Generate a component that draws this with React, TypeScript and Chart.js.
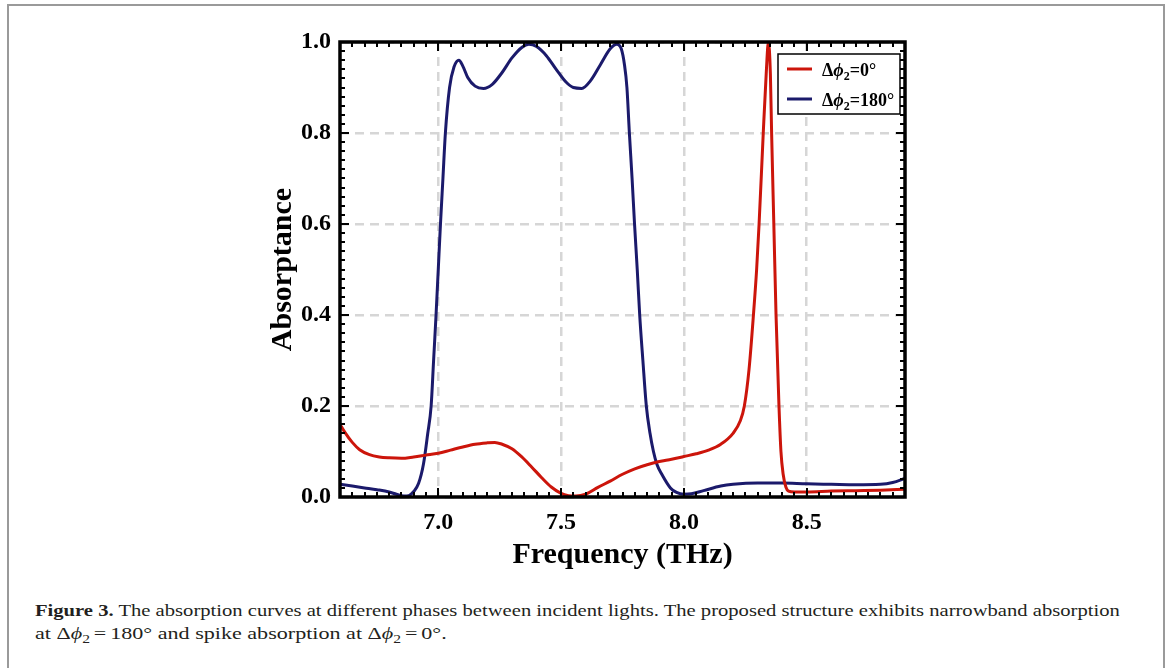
import React, { useEffect, useLayoutEffect, useRef } from 'react';
import { Chart, registerables } from 'chart.js';

Chart.register(...registerables);

// ---------- data ----------
const blueFreq = [
  6.6, 6.65, 6.7, 6.75, 6.8, 6.83, 6.86, 6.88, 6.9, 6.92, 6.94, 6.957, 6.971, 6.981, 6.991, 7.0, 7.009, 7.019,
  7.029, 7.046, 7.064, 7.084, 7.1, 7.12, 7.15, 7.184, 7.22, 7.26, 7.3, 7.34, 7.369, 7.4, 7.44, 7.48, 7.52, 7.55,
  7.584, 7.62, 7.66, 7.7, 7.727, 7.745, 7.758, 7.768, 7.778, 7.789, 7.799, 7.81, 7.82, 7.833, 7.847, 7.862, 7.876,
  7.89, 7.91, 7.945, 7.97, 8.0, 8.03, 8.08, 8.15, 8.2, 8.3, 8.4, 8.5, 8.6, 8.7, 8.8, 8.85, 8.9,
];
const blueAbs = [
  0.028, 0.024, 0.02, 0.016, 0.011, 0.006, 0.002, 0.003, 0.012, 0.03, 0.073, 0.139, 0.2, 0.3, 0.4, 0.5, 0.6, 0.7,
  0.8, 0.9, 0.945, 0.96, 0.947, 0.922, 0.903, 0.898, 0.907, 0.933, 0.965, 0.988, 0.995, 0.99, 0.97, 0.94, 0.912, 0.9,
  0.898, 0.915, 0.95, 0.985, 0.995, 0.985, 0.95, 0.9, 0.8, 0.7, 0.6, 0.5, 0.4, 0.3, 0.2, 0.14, 0.1,
  0.072, 0.05, 0.02, 0.01, 0.006, 0.007, 0.014, 0.024, 0.028, 0.031, 0.031, 0.029, 0.028, 0.027, 0.028, 0.032, 0.041,
];
const redFreq = [
  6.6, 6.62, 6.65, 6.68, 6.72, 6.76, 6.8, 6.85, 6.9, 6.95, 7.0, 7.05, 7.1, 7.15, 7.2, 7.23, 7.26, 7.3, 7.34, 7.38,
  7.42, 7.46, 7.5, 7.53, 7.56, 7.6, 7.65, 7.7, 7.75, 7.8, 7.85, 7.9, 7.95, 8.0, 8.05, 8.1, 8.15, 8.2, 8.23, 8.246,
  8.265, 8.283, 8.296, 8.306, 8.323, 8.335, 8.344, 8.352, 8.357, 8.366, 8.375, 8.387, 8.395, 8.404, 8.415, 8.426,
  8.45, 8.5, 8.6, 8.7, 8.8, 8.9,
];
const redAbs = [
  0.16, 0.142, 0.12, 0.104, 0.093, 0.088, 0.086, 0.085, 0.088, 0.092, 0.096, 0.103, 0.11, 0.116, 0.119, 0.12, 0.116,
  0.106, 0.088, 0.066, 0.043, 0.022, 0.008, 0.003, 0.002, 0.006, 0.021, 0.035, 0.05, 0.062, 0.071, 0.078, 0.083,
  0.089, 0.095, 0.103, 0.116, 0.14, 0.168, 0.2, 0.28, 0.4, 0.5, 0.6, 0.8, 0.93, 1.0, 0.93, 0.8, 0.6, 0.4, 0.2, 0.1,
  0.05, 0.022, 0.013, 0.011, 0.011, 0.013, 0.014, 0.015, 0.017,
];
const seriesPhases = ['0°', '180°'];
const seriesColors = ['#cc150b', '#1b1a6b'];
const xTickValues = [7.0, 7.5, 8.0, 8.5];
const yTickValues = [0, 0.2, 0.4, 0.6, 0.8, 1.0];
const xMin = 6.6;
const xMax = 8.9;
const xTitle = 'Frequency (THz)';
const yTitle = 'Absorptance';

const SERIF = '"Liberation Serif", "Times New Roman", serif';

function drawPhaseLabel(ctx: CanvasRenderingContext2D, x: number, yb: number, phase: string) {
  ctx.fillStyle = '#000';
  ctx.textAlign = 'left';
  ctx.textBaseline = 'alphabetic';
  ctx.font = `bold 18px ${SERIF}`;
  ctx.fillText('Δ', x, yb);
  x += ctx.measureText('Δ').width;
  ctx.font = `italic bold 18px ${SERIF}`;
  ctx.fillText('ϕ', x, yb);
  x += ctx.measureText('ϕ').width;
  ctx.font = `bold 12px ${SERIF}`;
  ctx.fillText('2', x, yb + 4);
  x += ctx.measureText('2').width;
  ctx.font = `bold 18px ${SERIF}`;
  ctx.fillText('=' + phase, x, yb);
}

const framePlugin = {
  id: 'frameAndLegend',
  afterDatasetsDraw(chart: any) {
    const { ctx, chartArea, scales } = chart;
    const { left, right, top, bottom } = chartArea;
    const xs = scales.x;
    const ys = scales.y;
    ctx.save();
    ctx.strokeStyle = '#000';
    ctx.lineWidth = 2;
    ctx.beginPath();
    const i0 = Math.ceil(xMin / 0.05 - 1e-6);
    const i1 = Math.floor(xMax / 0.05 + 1e-6);
    for (let i = i0; i <= i1; i++) {
      const px = Math.round(xs.getPixelForValue(i * 0.05));
      const len = i % 10 === 0 ? 9 : 5;
      ctx.moveTo(px, bottom);
      ctx.lineTo(px, bottom - len);
      ctx.moveTo(px, top);
      ctx.lineTo(px, top + len);
    }
    for (let i = 0; i <= 50; i++) {
      const py = Math.round(ys.getPixelForValue(i * 0.02));
      const len = i % 10 === 0 ? 9 : 5;
      ctx.moveTo(left, py);
      ctx.lineTo(left + len, py);
      ctx.moveTo(right, py);
      ctx.lineTo(right - len, py);
    }
    ctx.stroke();
    ctx.lineWidth = 3.5;
    ctx.strokeRect(left, top, right - left, bottom - top);

    // legend
    const bx = 778;
    const by = 54;
    const bw = 122;
    const bh = 60;
    ctx.fillStyle = '#fff';
    ctx.fillRect(bx, by, bw, bh);
    ctx.lineWidth = 1.5;
    ctx.strokeStyle = '#000';
    ctx.strokeRect(bx, by, bw, bh);
    seriesPhases.forEach((ph, k) => {
      const cy = by + 15 + k * 30;
      ctx.strokeStyle = seriesColors[k];
      ctx.lineWidth = 3;
      ctx.beginPath();
      ctx.moveTo(bx + 9, cy);
      ctx.lineTo(bx + 34, cy);
      ctx.stroke();
      drawPhaseLabel(ctx, bx + 44, cy + 7, ph);
    });
    ctx.restore();
  },
};

export default function App() {
  const canvasRef = useRef<HTMLCanvasElement>(null);
  const line1Ref = useRef<HTMLDivElement>(null);
  const line2Ref = useRef<HTMLDivElement>(null);

  useEffect(() => {
    const canvas = canvasRef.current;
    if (!canvas) return;
    const tickFont = { family: SERIF, size: 24, weight: 'bold' as const };
    const titleFont = { family: SERIF, size: 30, weight: 'bold' as const };
    const chart = new Chart(canvas, {
      type: 'line',
      data: {
        datasets: [
          {
            label: 'Δϕ2=' + seriesPhases[0],
            data: redFreq.map((f, i) => ({ x: f, y: redAbs[i] })),
            borderColor: seriesColors[0],
            borderWidth: 3,
            pointRadius: 0,
            fill: false,
            cubicInterpolationMode: 'monotone',
          },
          {
            label: 'Δϕ2=' + seriesPhases[1],
            data: blueFreq.map((f, i) => ({ x: f, y: blueAbs[i] })),
            borderColor: seriesColors[1],
            borderWidth: 3,
            pointRadius: 0,
            fill: false,
            cubicInterpolationMode: 'monotone',
          },
        ],
      },
      options: {
        responsive: false,
        animation: false,
        devicePixelRatio: 1,
        layout: { padding: { left: 265, right: 265, top: 42, bottom: 27 } },
        plugins: { legend: { display: false }, tooltip: { enabled: false } },
        scales: {
          x: {
            type: 'linear',
            min: xMin,
            max: xMax,
            afterBuildTicks: (s: any) => {
              s.ticks = xTickValues.map((v) => ({ value: v }));
            },
            afterFit: (s: any) => {
              s.height = 76;
            },
            ticks: {
              font: tickFont,
              color: '#000',
              padding: 11,
              maxRotation: 0,
              autoSkip: false,
              callback: (v: any) => Number(v).toFixed(1),
            },
            grid: { color: '#d6d6d6', lineWidth: 2.5, drawTicks: false },
            border: { display: false, dash: [9, 6] },
            title: { display: true, text: xTitle, font: titleFont, color: '#000', padding: 0 },
          },
          y: {
            type: 'linear',
            min: 0,
            max: 1,
            afterBuildTicks: (s: any) => {
              s.ticks = yTickValues.map((v) => ({ value: v }));
            },
            afterFit: (s: any) => {
              s.width = 75;
            },
            ticks: {
              font: tickFont,
              color: '#000',
              padding: 9,
              autoSkip: false,
              callback: (v: any) => Number(v).toFixed(1),
            },
            grid: { color: '#d6d6d6', lineWidth: 2.5, drawTicks: false },
            border: { display: false, dash: [9, 6] },
            title: { display: true, text: yTitle, font: titleFont, color: '#000', padding: 0 },
          },
        },
      },
      plugins: [framePlugin],
    } as any);
    return () => chart.destroy();
  }, []);

  useLayoutEffect(() => {
    const l1 = line1Ref.current;
    const l2 = line2Ref.current;
    if (!l1 || !l2) return;
    const w1 = l1.offsetWidth;
    const w2 = l2.offsetWidth;
    if (w1 > 0) l1.style.transform = `scaleX(${1085 / w1})`;
    if (w2 > 0) l2.style.transform = `scaleX(${412 / w2})`;
  }, []);

  const capStyle = (top: number): React.CSSProperties => ({
    position: 'absolute',
    left: 35,
    top,
    whiteSpace: 'nowrap',
    fontFamily: SERIF,
    fontSize: 17,
    lineHeight: '20px',
    color: '#231f20',
    transformOrigin: '0 0',
  });
  const sub: React.CSSProperties = { fontSize: 12, position: 'relative', top: 4 };
  const eq: React.CSSProperties = { padding: '0 3px' };

  return (
    <div
      style={{
        position: 'absolute',
        left: 0,
        top: 0,
        width: 1170,
        height: 668,
        background: '#fff',
        overflow: 'hidden',
      }}
    >
      <div
        style={{
          position: 'absolute',
          left: 7,
          top: 4,
          width: 1154,
          height: 720,
          borderLeft: '2px solid #9a9a9a',
          borderTop: '2px solid #9a9a9a',
          borderRight: '2px solid #9a9a9a',
        }}
      />
      <canvas
        ref={canvasRef}
        width={1170}
        height={600}
        style={{ position: 'absolute', left: 0, top: 0, width: 1170, height: 600 }}
      />
      <div ref={line1Ref} style={capStyle(601)}>
        <b>Figure 3.</b> The absorption curves at different phases between incident lights. The proposed structure
        exhibits narrowband absorption
      </div>
      <div ref={line2Ref} style={capStyle(624)}>
        at Δ<i>ϕ</i>
        <span style={sub}>2</span>
        <span style={eq}>=</span>180° and spike absorption at Δ<i>ϕ</i>
        <span style={sub}>2</span>
        <span style={eq}>=</span>0°.
      </div>
    </div>
  );
}
